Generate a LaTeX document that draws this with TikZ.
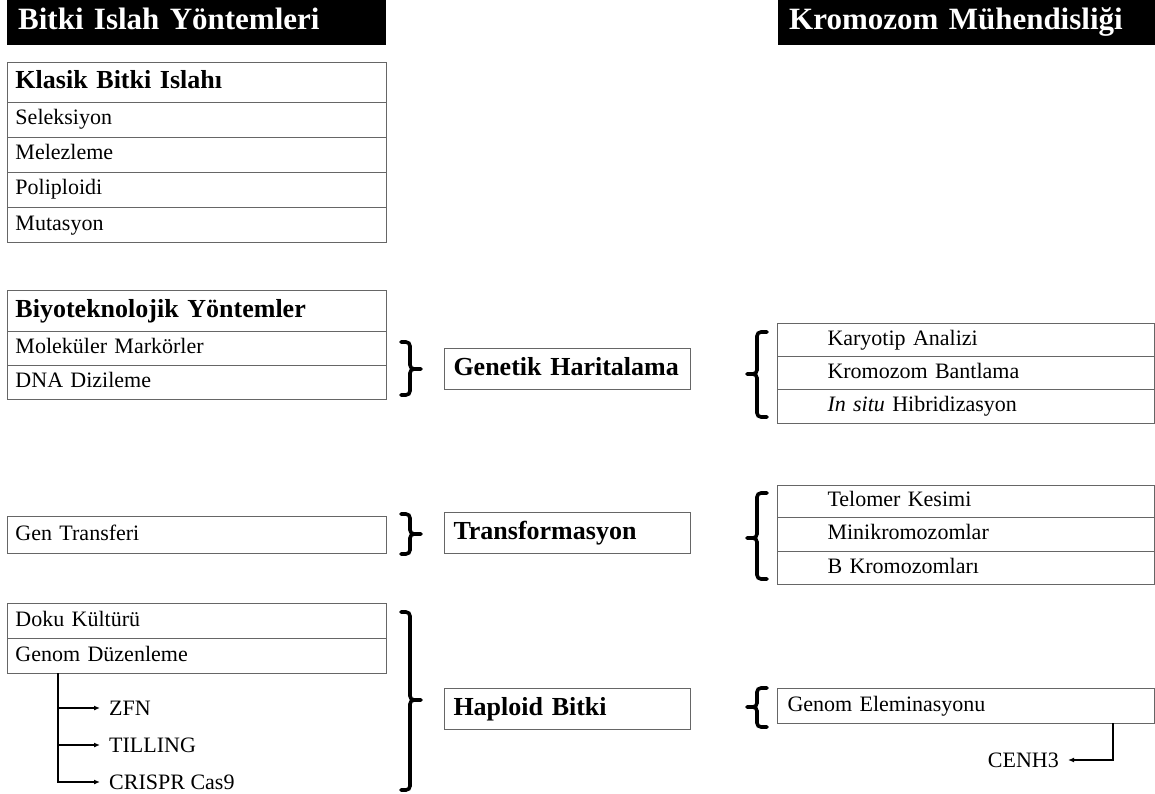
\documentclass[tikz,border=0pt]{standalone}
\usepackage{fontspec}
\setmainfont{Liberation Serif}
\usetikzlibrary{arrows.meta}

\begin{document}
\begin{tikzpicture}[x=1pt, y=-1pt,
    cell/.style={draw=black!60, line width=1pt, anchor=north west, inner ysep=0pt,
        align=left, text height=15pt, text depth=5pt, font=\fontsize{22}{26}\selectfont},
    leftcell/.style={cell, inner xsep=8pt, text width=363pt, minimum height=#1},
    lefthead/.style={leftcell=#1, font=\bfseries\fontsize{26}{30}\selectfont, text height=18pt, text depth=6pt},
    midcell/.style={cell, inner xsep=9pt, text width=228pt, minimum height=41pt,
        font=\bfseries\fontsize{26}{30}\selectfont, text height=18pt, text depth=6pt},
    rightcell/.style={cell, inner xsep=50pt, text width=277pt, minimum height=#1},
    titlebar/.style={fill=black, text=white, anchor=north west, inner xsep=11pt, inner ysep=0pt,
        minimum height=45pt, text height=21pt, text depth=7pt, align=left,
        font=\bfseries\fontsize{31}{36}\selectfont},
    bracket/.style={line width=3.6pt, rounded corners=4pt, line cap=round},
    branch/.style={line width=1.4pt, -{Latex[length=6pt, width=5pt]}},
    leaf/.style={anchor=west, inner xsep=9pt, font=\fontsize{22}{26}\selectfont}
]
    % Frame of the picture
    \useasboundingbox (0,0) rectangle (1155,794);

    % Title bars
    \node[titlebar, text width=357pt] (titleleft) at (7,0) {Bitki Islah Yöntemleri};
    \node[titlebar, text width=355pt] (titleright) at (778,0) {Kromozom Mühendisliği};

    % Classical breeding
    \node[lefthead=40pt] (klasik) at (7,62) {Klasik Bitki Islahı};
    \node[leftcell=35pt] (seleksiyon) at (7,102) {Seleksiyon};
    \node[leftcell=35pt] (melezleme) at (7,137) {Melezleme};
    \node[leftcell=35pt] (poliploidi) at (7,172) {Poliploidi};
    \node[leftcell=35pt] (mutasyon) at (7,207) {Mutasyon};

    % Biotechnological methods
    \node[lefthead=41pt] (biyotek) at (7,290) {Biyoteknolojik Yöntemler};
    \node[leftcell=34pt] (marker) at (7,331) {Moleküler Markörler};
    \node[leftcell=34pt] (dizileme) at (7,365) {DNA Dizileme};

    \node[leftcell=37pt] (gentransfer) at (7,516) {Gen Transferi};

    \node[leftcell=35pt] (doku) at (7,603) {Doku Kültürü};
    \node[leftcell=35pt] (genduzen) at (7,638) {Genom Düzenleme};

    % Genome editing tools
    \node[leaf] (zfn) at (100,708) {ZFN};
    \node[leaf] (tilling) at (100,745) {TILLING};
    \node[leaf] (crispr) at (100,782) {CRISPR Cas9};
    \coordinate (trunk) at (58,673);
    \draw[branch] (trunk) |- (zfn.west);
    \draw[branch] (trunk) |- (tilling.west);
    \draw[branch] (trunk) |- (crispr.west);

    % Middle column
    \node[midcell] (haritalama) at (444,348) {Genetik Haritalama};
    \node[midcell] (transform) at (444,512) {Transformasyon};
    \node[midcell] (haploid) at (444,688) {Haploid Bitki};

    % Chromosome engineering
    \node[rightcell=33pt] (karyotip) at (777,323) {Karyotip Analizi};
    \node[rightcell=33pt] (bantlama) at (777,356) {Kromozom Bantlama};
    \node[rightcell=34pt] (insitu) at (777,389) {\textit{In situ} Hibridizasyon};

    \node[rightcell=32pt] (telomer) at (777,485) {Telomer Kesimi};
    \node[rightcell=34pt] (minikrom) at (777,517) {Minikromozomlar};
    \node[rightcell=33pt] (bkrom) at (777,551) {B Kromozomları};

    \node[rightcell=35pt, inner xsep=10pt, text width=357pt] (eleminasyon) at (777,688) {Genom Eleminasyonu};

    % CENH3 branch
    \node[leaf, anchor=east] (cenh) at (1068,760) {CENH3};
    \coordinate (elembranch) at (1113,723);
    \draw[branch, line width=1.2pt] (elembranch) |- (cenh.east);

    % Brackets towards the middle column
    \draw[bracket] (401,342) -| (410,369) -- (421,369) (421,369) -- (410,369) |- (401,395);
    \draw[bracket] (401,514) -| (410,534) -- (421,534) (421,534) -- (410,534) |- (401,554);
    \draw[bracket] (401,612) -| (410,700) -- (421,700) (421,700) -- (410,700) |- (401,790);

    % Brackets towards the right column
    \draw[bracket] (767,332) -| (757,374) -- (747,374) (747,374) -- (757,374) |- (767,417);
    \draw[bracket] (767,493) -| (757,538) -- (747,538) (747,538) -- (757,538) |- (767,579);
    \draw[bracket] (767,688) -| (757,707) -- (747,707) (747,707) -- (757,707) |- (767,727);
\end{tikzpicture}
\end{document}
